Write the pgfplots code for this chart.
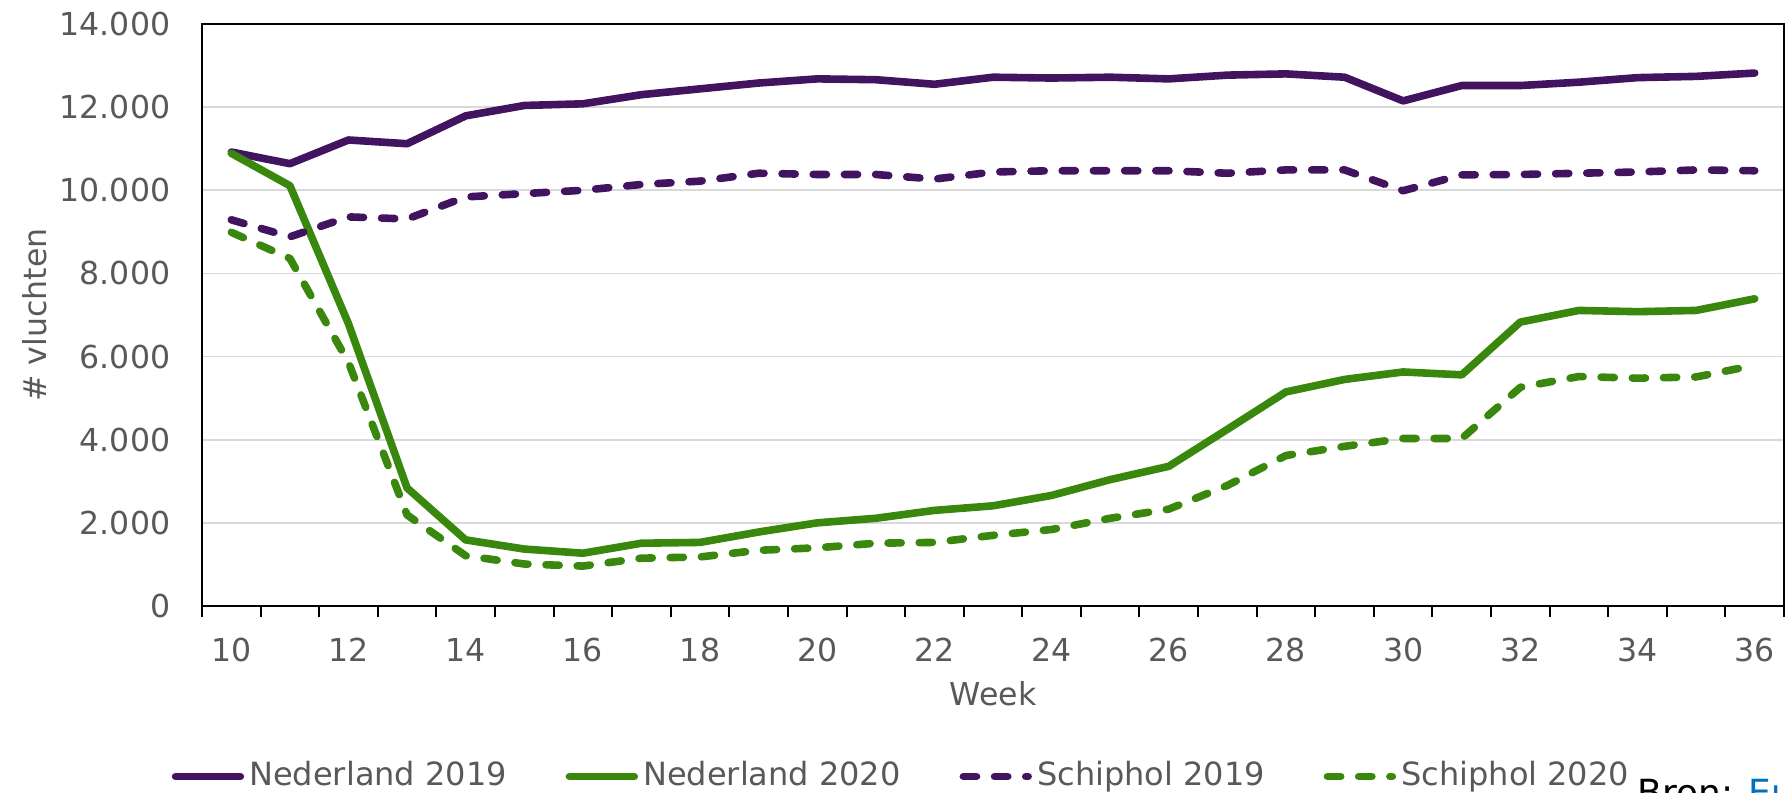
\documentclass[border=0pt]{standalone}
\usepackage{fontspec}
\setmainfont{DejaVu Sans}
\usepackage{pgfplots}
\usepackage{pgfplotstable}
\pgfplotsset{compat=1.18}

\definecolor{paars}{HTML}{42145F}
\definecolor{groen}{HTML}{39870C}
\definecolor{tekst}{HTML}{595959}
\definecolor{raster}{HTML}{D9D9D9}
\definecolor{link}{HTML}{0070C0}

% wekelijkse vluchten, week 10 t/m 36
\pgfplotstableread{
week ned19 ned20 sch19 sch20
10 10920 10890 9290 8990
11 10640 10110 8880 8360
12 11210 6790 9360 5860
13 11120 2840 9310 2190
14 11790 1590 9840 1210
15 12040 1370 9920 1010
16 12080 1270 10000 960
17 12300 1510 10140 1150
18 12440 1530 10220 1180
19 12580 1780 10410 1340
20 12680 2000 10380 1400
21 12660 2110 10380 1510
22 12550 2300 10270 1530
23 12720 2410 10440 1700
24 12700 2660 10470 1840
25 12720 3040 10470 2110
26 12680 3360 10470 2330
27 12770 4250 10410 2900
28 12800 5150 10490 3620
29 12720 5450 10490 3840
30 12150 5630 9990 4030
31 12520 5560 10370 4030
32 12520 6830 10380 5260
33 12600 7110 10410 5520
34 12710 7080 10440 5480
35 12740 7110 10490 5510
36 12820 7390 10470 5790
}\vluchten

\begin{document}
\begin{tikzpicture}
\useasboundingbox (-50.5pt,-46.5pt) rectangle (396pt,151.5pt);
\begin{axis}[
  at={(0,0)}, anchor=south west,
  scale only axis, width=395.5pt, height=145.5pt,
  xmin=9.5, xmax=36.5, ymin=0, ymax=14000,
  xtick={10,12,...,36},
  minor xtick={9.5,10.5,...,36.5},
  ytick={0,2000,...,14000},
  scaled y ticks=false,
  /pgf/number format/.cd, 1000 sep={.}, assume math mode=true, /pgfplots/.cd,
  ymajorgrids, grid style={raster, line width=0.4pt},
  tick align=outside, tick pos=left,
  major tick length=0pt, minor tick length=2.75pt,
  minor tick style={black, line width=0.5pt},
  axis line style={black, line width=0.3pt},
  tick label style={font=\fontsize{7.9}{9}\selectfont, text=tekst},
  yticklabel style={xshift=-4.4pt},
  xticklabel style={yshift=-4.6pt},
  xlabel={Week},
  ylabel={\# vluchten},
  every axis x label/.style={at={(axis description cs:0.5,-0.151)}, anchor=center,
    font=\fontsize{7.9}{9}\selectfont, text=tekst},
  every axis y label/.style={at={(axis description cs:-0.106,0.5)}, rotate=90, anchor=center,
    font=\fontsize{7.9}{9}\selectfont, text=tekst},
  legend columns=4,
  legend style={draw=none, fill=none, inner sep=0pt,
    at={(axis description cs:-0.0196,-0.293)}, anchor=west,
    font=\fontsize{8}{9.5}\selectfont, text=tekst,
    nodes={inner xsep=1.3pt, inner ysep=0pt},
    /tikz/every even column/.append style={column sep=13.4pt}},
  legend cell align=left,
  legend image code/.code={\draw[#1] (0.9pt,0pt) -- (17.1pt,0pt);},
  every axis plot/.append style={line width=1.9pt, line cap=round, line join=round},
]
\addplot[paars, no marks] table[x=week, y=ned19] {\vluchten};
\addlegendentry{Nederland 2019}
\addplot[groen, no marks] table[x=week, y=ned20] {\vluchten};
\addlegendentry{Nederland 2020}
\addplot[paars, no marks, dash pattern=on 3.3pt off 4.5pt] table[x=week, y=sch19] {\vluchten};
\addlegendentry{Schiphol 2019}
\addplot[groen, no marks, dash pattern=on 3.3pt off 4.5pt] table[x=week, y=sch20] {\vluchten};
\addlegendentry{Schiphol 2020}
\draw[black, line width=0.55pt] (rel axis cs:0,1) -- (rel axis cs:0,0) -- (rel axis cs:1,0);
\end{axis}
\begin{scope}
\clip (-50.5pt,-46.5pt) rectangle (396pt,151.5pt);
\node[anchor=north west, inner sep=0pt, font=\fontsize{9}{10}\selectfont] at (358.75pt,-42.9pt) {Bron: \textcolor{link}{Eurocontrol}};
\end{scope}
\end{tikzpicture}
\end{document}
